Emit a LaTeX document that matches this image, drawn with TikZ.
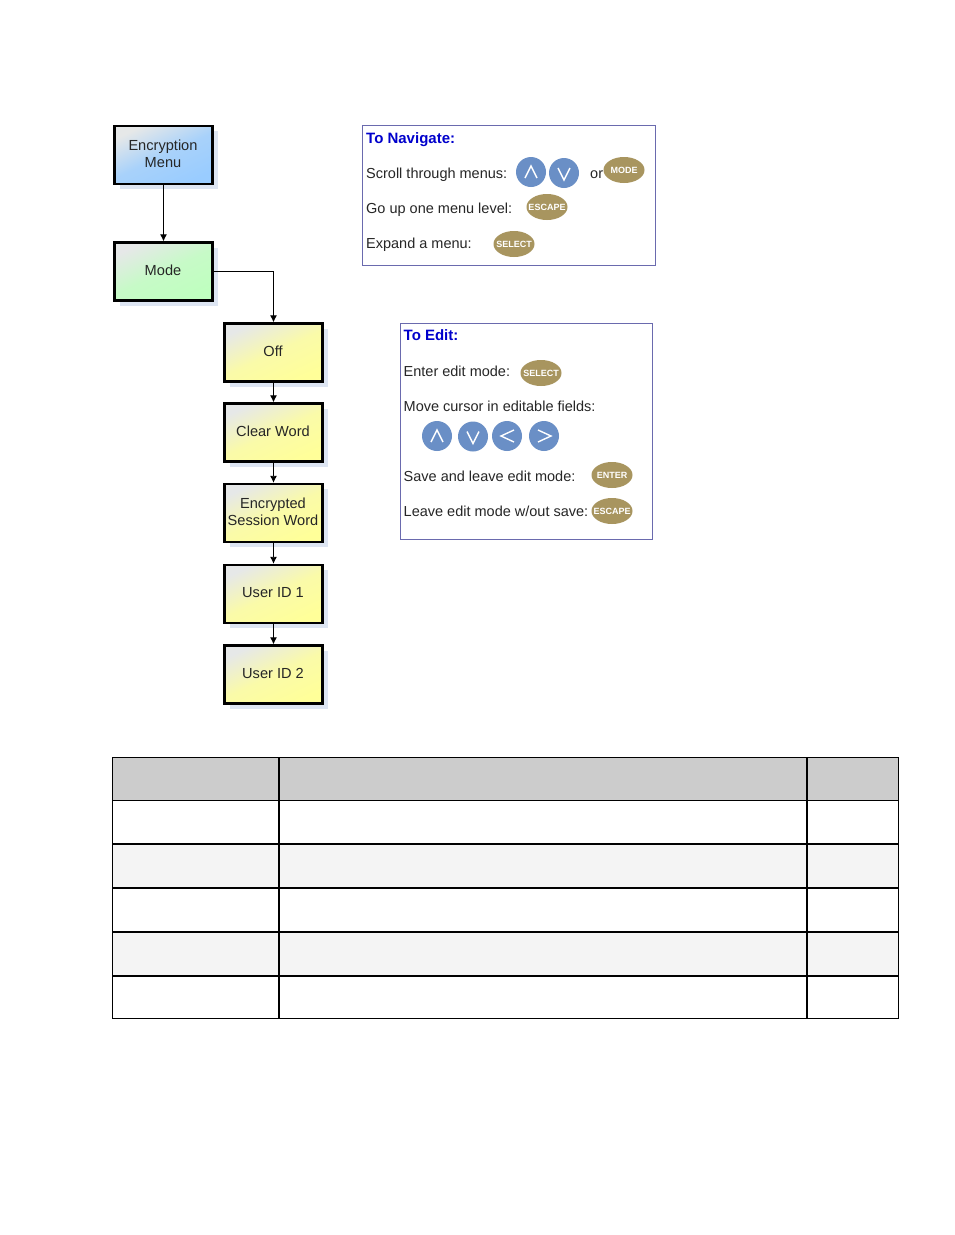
\documentclass[tikz,border=0pt]{standalone}
\usepackage{fontspec}
\setmainfont{Liberation Sans}
\usetikzlibrary{arrows.meta,calc,shapes.geometric}
\definecolor{tanbtn}{HTML}{A8955F}
\definecolor{bluebtn}{HTML}{6A8FC6}
\definecolor{panelline}{HTML}{6A6AAE}
\definecolor{shadowc}{HTML}{DDE5F2}
\definecolor{headblue}{HTML}{0000CC}
\definecolor{startc}{HTML}{E6E8E8}
\definecolor{bluec}{HTML}{99CCFF}
\definecolor{greenc}{HTML}{BFFFBF}
\definecolor{yellowc}{HTML}{FFFF99}
\newcommand{\ovaltext}[1]{\makebox[0pt][c]{#1}}
\tikzset{
  x=1pt,y=-1pt,
  boxlabel/.style={align=center,inner sep=0pt,yshift=1pt,xshift=-0.5pt,font=\fontsize{14.6}{17}\selectfont,text=black!85},
  flowbox/.style={draw=black,line width=2.4pt,minimum width=98pt,minimum height=58pt,inner sep=0pt,
    preaction={fill=shadowc,draw=none,transform canvas={shift={(5pt,-5pt)}}},
    label={[boxlabel]center:#1}},
  bluebox/.style={flowbox={#1},top color=startc,bottom color=bluec,middle color=bluec!80!startc,shading angle=25},
  greenbox/.style={flowbox={#1},top color=startc,bottom color=greenc,middle color=greenc!80!startc,shading angle=25},
  yellowbox/.style={flowbox={#1},top color=startc,bottom color=yellowc,middle color=yellowc!80!startc,shading angle=25},
  flow/.style={draw=black,line width=0.9pt,-{Latex[length=7pt,width=7pt]}},
  panel/.style={draw=panelline,line width=1pt,anchor=north west,inner sep=0pt},
  lbl/.style={anchor=west,inner sep=0pt,yshift=-1.5pt,font=\fontsize{14.5}{17}\selectfont,text=black!85},
  head/.style={anchor=west,inner sep=0pt,yshift=-1pt,font=\fontsize{15}{17}\bfseries\selectfont,text=headblue},
  oval/.style={ellipse,fill=tanbtn,minimum width=41pt,minimum height=26pt,inner sep=0pt,text=white,
    font=\fontsize{9}{10}\bfseries\selectfont},
  round btn/.style={circle,fill=bluebtn,minimum size=30pt,inner sep=0pt},
  btnup/.style={round btn,path picture={\draw[white,line width=1.4pt]
    ($(path picture bounding box.center)+(-6,6)$)--($(path picture bounding box.center)+(0,-6)$)--($(path picture bounding box.center)+(6,6)$);}},
  btndown/.style={round btn,path picture={\draw[white,line width=1.4pt]
    ($(path picture bounding box.center)+(-6,-5)$)--($(path picture bounding box.center)+(0,7)$)--($(path picture bounding box.center)+(6,-5)$);}},
  btnleft/.style={round btn,path picture={\draw[white,line width=1.4pt]
    ($(path picture bounding box.center)+(7,-6)$)--($(path picture bounding box.center)+(-6,0)$)--($(path picture bounding box.center)+(7,6)$);}},
  btnright/.style={round btn,path picture={\draw[white,line width=1.4pt]
    ($(path picture bounding box.center)+(-6,-6)$)--($(path picture bounding box.center)+(7,0)$)--($(path picture bounding box.center)+(-6,6)$);}},
  cell/.style={anchor=north west,inner sep=0pt,draw=none},
  rule thin/.style={draw=black,line width=1pt},
  rule thick/.style={draw=black,line width=2pt},
}
\begin{document}
\begin{tikzpicture}
\useasboundingbox[fill=white] (0,0) rectangle (954,1235);
% flow chart
\node[bluebox={Encryption\\Menu}]   (enc)  at (163.5,155) {};
\node[greenbox={Mode}]  (mode) at (163.5,271.5) {};
\node[yellowbox={Off}] (off)  at (273.5,352.5) {};
\node[yellowbox={Clear Word}] (clear) at (273.5,432.5) {};
\node[yellowbox={Encrypted\\Session Word}] (sess) at (273.5,513) {};
\node[yellowbox={User ID 1}] (id1)  at (273.5,594) {};
\node[yellowbox={User ID 2}] (id2)  at (273.5,674.5) {};
\draw[flow] (enc) -- (mode);
\draw[flow] (mode.east) -| (off.north);
\draw[flow] (off) -- (clear);
\draw[flow] (clear) -- (sess);
\draw[flow] (sess) -- (id1);
\draw[flow] (id1) -- (id2);
% navigate panel
\node[panel,minimum width=293pt,minimum height=140pt] (nav) at (362,125) {};
\node[head] (navh) at (366,139) {To Navigate:};
\node[lbl] (n1) at (366,173) {Scroll through menus:};
\node[btnup] (nu) at (531,172) {};
\node[btndown] (nd) at (564,173) {};
\node[lbl] (nor) at (590,173) {or};
\node[oval] (nm) at (624,170) {\ovaltext{MODE}};
\node[lbl] (n2) at (366,208) {Go up one menu level:};
\node[oval] (ne) at (547,207) {\ovaltext{ESCAPE}};
\node[lbl] (n3) at (366,243.5) {Expand a menu:};
\node[oval] (ns) at (514,244) {\ovaltext{SELECT}};
% edit panel
\node[panel,minimum width=252pt,minimum height=216pt] (edit) at (399.5,323) {};
\node[head] (edh) at (403.5,334.5) {To Edit:};
\node[lbl] (e1) at (403.5,370) {Enter edit mode:};
\node[oval] (es) at (541,373) {\ovaltext{SELECT}};
\node[lbl] (e2) at (403.5,405) {Move cursor in editable fields:};
\node[btnup] (eu) at (437,436) {};
\node[btndown] (ed) at (473,436.5) {};
\node[btnleft] (el) at (507,436) {};
\node[btnright] (er) at (544,436) {};
\node[lbl] (e3) at (403.5,475) {Save and leave edit mode:};
\node[oval] (een) at (612,475) {\ovaltext{ENTER}};
\node[lbl] (e4) at (403.5,510) {Leave edit mode w/out save:};
\node[oval] (ees) at (612,511) {\ovaltext{ESCAPE}};
% table
\node[cell,fill=black!20,minimum width=786pt,minimum height=43pt] (thead) at (112.5,757.5) {};
\node[cell,fill=black!4.5,minimum width=786pt,minimum height=44pt] (r2) at (112.5,844) {};
\node[cell,fill=black!4.5,minimum width=786pt,minimum height=43pt] (r4) at (112.5,932) {};
\node[cell,draw=none,minimum width=786pt,minimum height=261pt] (tbl) at (112.5,757.5) {};
\coordinate (v1t) at (279,757.5);
\coordinate (v1b) at (279,1018.5);
\coordinate (v2t) at (807,757.5);
\coordinate (v2b) at (807,1018.5);
\draw[rule thin] (tbl.north west) rectangle (tbl.south east);
\draw[rule thick] (v1t) -- (v1b);
\draw[rule thick] (v2t) -- (v2b);
\draw[rule thin] (112.5,800.5) -- (898.5,800.5);
\draw[rule thick] (112.5,844) -- (898.5,844);
\draw[rule thick] (112.5,888) -- (898.5,888);
\draw[rule thick] (112.5,932) -- (898.5,932);
\draw[rule thick] (112.5,975.5) -- (898.5,975.5);
\end{tikzpicture}
\end{document}
